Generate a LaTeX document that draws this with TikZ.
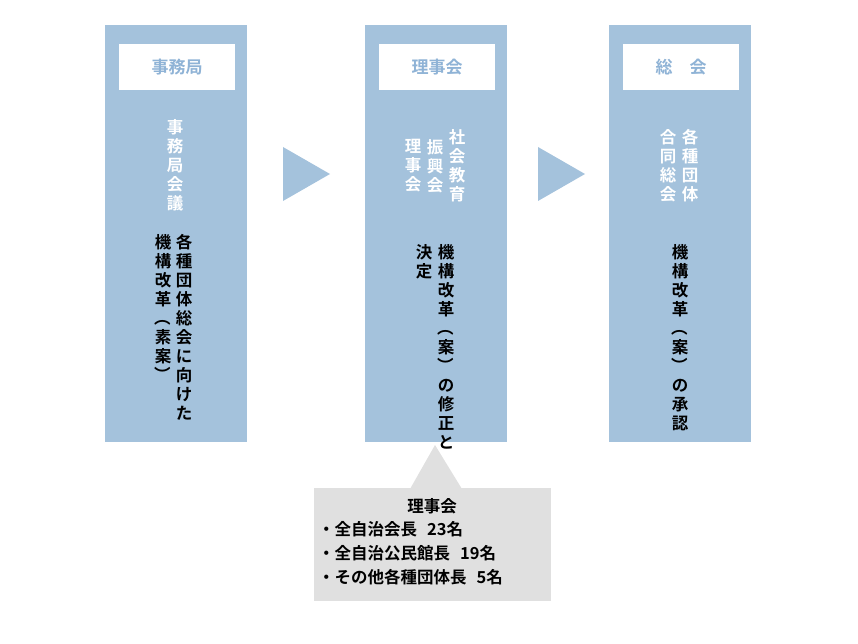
\documentclass[tikz,border=0pt]{standalone}
\usepackage{fontspec}
\usepackage{graphicx}
\newfontfamily\jp{Noto Sans CJK JP Bold}
\definecolor{colblue}{HTML}{A4C2DC}
\definecolor{hdtext}{HTML}{8FB3D6}
\definecolor{callgray}{HTML}{E0E0E0}
\newcommand\LP{\rotatebox[origin=c]{-90}{（}}
\newcommand\RP{\rotatebox[origin=c]{-90}{）}}
\def\tateaux#1{\ifx\relax#1\else\hbox to 1em{\hss#1\hss}\expandafter\tateaux\fi}
\newcommand\tate[1]{\vtop{\baselineskip=19pt\lineskiplimit=-20pt\tateaux#1\relax}}
\tikzset{
 col/.style={fill=colblue,draw=none},
 hd/.style={fill=white,draw=none,minimum width=116pt,minimum height=46pt,font=\jp\fontsize{17}{19}\selectfont,text=hdtext},
 vt/.style={anchor=north,inner sep=0pt,font=\jp\fontsize{16.5}{19}\selectfont},
 vtw/.style={vt,text=white},
 arr/.style={fill=colblue,draw=none},
 ct/.style={font=\jp\fontsize{16.5}{19}\selectfont,inner sep=0pt}
}
\begin{document}
\begin{tikzpicture}[x=1pt,y=-1pt]
\useasboundingbox (0,0) rectangle (858,644);
\fill[col] (105,25) rectangle (247,442);
\fill[col] (365,25) rectangle (507,442);
\fill[col] (609,25) rectangle (751,442);
\node[hd] (h1) at (177,67) {事務局};
\node[hd] (h2) at (437,67) {理事会};
\node[hd] (h3) at (681,67) {総\hspace{1em}会};
\fill[arr] (283,147) -- (330,174) -- (283,201) -- cycle;
\fill[arr] (538,147) -- (585,174) -- (538,201) -- cycle;
% column 1
\node[vtw] (t1) at (175,119) {\tate{事務局会議}};
\node[vt] (a1) at (184,234) {\tate{各種団体総会に向けた}};
\node[vt] (b1) at (163,234) {\tate{機構改革\LP 素案\RP}};
% column 2
\node[vtw] (t2a) at (457,129) {\tate{社会教育}};
\node[vtw] (t2b) at (435,139) {\tate{振興会}};
\node[vtw] (t2c) at (413,139) {\tate{理事会}};
\node[vt] (a2) at (446,244) {\tate{機構改革\LP 案\RP の修正と}};
\node[vt] (b2) at (424,244) {\tate{決定}};
% column 3
\node[vtw] (t3a) at (690,129) {\tate{各種団体}};
\node[vtw] (t3b) at (668,129) {\tate{合同総会}};
\node[vt] (a3) at (680,244) {\tate{機構改革\LP 案\RP の承認}};
% callout
\fill[callgray] (314,488) rectangle (551,601);
\fill[callgray] (410,489) -- (435,445) -- (462,489) -- cycle;
\node[ct] (c0) at (432,506) {理事会};
\node[ct,anchor=west] (c1) at (318,529) {・全自治会長\hspace{0.6em}23名};
\node[ct,anchor=west] (c2) at (318,553) {・全自治公民館長\hspace{0.6em}19名};
\node[ct,anchor=west] (c3) at (318,577) {・その他各種団体長\hspace{0.6em}5名};
\end{tikzpicture}
\end{document}
